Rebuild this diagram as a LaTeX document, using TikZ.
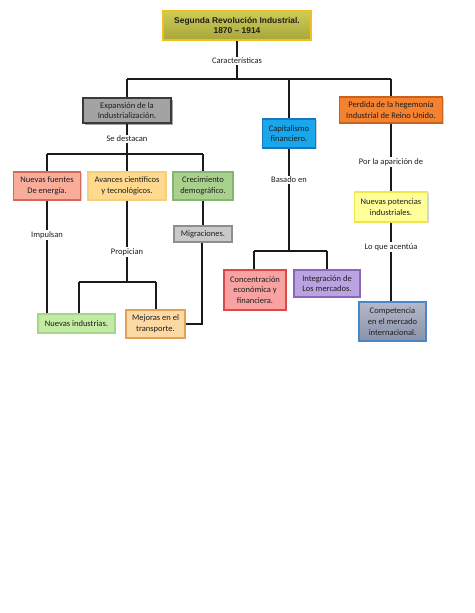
\documentclass[tikz,border=0pt]{standalone}
\usepackage{fontspec}
\setmainfont{Carlito}
\newfontfamily\titlefont{Liberation Sans}
\usetikzlibrary{shadows}
\definecolor{ln}{HTML}{1A1A1A}
\definecolor{txt}{HTML}{1E1E1E}
\definecolor{tiD}{HTML}{F0C020}\definecolor{tiT}{HTML}{CECC56}\definecolor{tiB}{HTML}{A8A63A}
\definecolor{exD}{HTML}{3A3A3A}\definecolor{exF}{HTML}{A3A3A3}
\definecolor{caD}{HTML}{1578C0}\definecolor{caF}{HTML}{19A6EA}
\definecolor{peD}{HTML}{C8601E}\definecolor{peF}{HTML}{F5822F}
\definecolor{nfD}{HTML}{D46A5A}\definecolor{nfF}{HTML}{F9AC9A}
\definecolor{avD}{HTML}{F5CE78}\definecolor{avF}{HTML}{FFD98E}
\definecolor{crD}{HTML}{86B474}\definecolor{crF}{HTML}{A9D18E}
\definecolor{miD}{HTML}{8E8E8E}\definecolor{miF}{HTML}{C9C9C9}
\definecolor{niD}{HTML}{A6D68A}\definecolor{niF}{HTML}{C4EBA4}
\definecolor{meD}{HTML}{E0A458}\definecolor{meF}{HTML}{FCD9A2}
\definecolor{coD}{HTML}{E04848}\definecolor{coF}{HTML}{F8A2A2}
\definecolor{inD}{HTML}{8A68B8}\definecolor{inF}{HTML}{BBA3E2}
\definecolor{npD}{HTML}{F2E64A}\definecolor{npF}{HTML}{FFFF99}
\definecolor{cmD}{HTML}{4A86C8}\definecolor{cmT}{HTML}{B4B8CA}\definecolor{cmB}{HTML}{8A92AA}
\tikzset{
  box/.style={draw, line width=1.3pt, align=center, inner sep=1pt, text=txt,
    font=\fontsize{8.5}{10.8}\selectfont,
    drop shadow={shadow xshift=1.2pt, shadow yshift=-1.2pt, opacity=0.35}},
  lab/.style={fill=white, inner sep=1.5pt, text=txt, font=\fontsize{8.5}{10.8}\selectfont},
  conn/.style={draw=ln, line width=1.8pt}
}
\begin{document}
\begin{tikzpicture}[x=1pt,y=-1pt]
\useasboundingbox[fill=white] (0,0) rectangle (474,613);
% boxes
\node[box, draw=tiD, line width=2pt, top color=tiT, bottom color=tiB,
  minimum width=148pt, minimum height=29pt, font=\titlefont\bfseries\fontsize{8.4}{10}\selectfont]
  (title) at (237,25.5) {Segunda Revolución Industrial.\\1870 – 1914};
\node[box, draw=exD, fill=exF, minimum width=88pt, minimum height=25pt,
  drop shadow={shadow xshift=1.8pt, shadow yshift=-1.8pt, opacity=0.7}]
  (exp) at (127,110.5) {Expansión de la\\Industrialización.};
\node[box, draw=caD, fill=caF, minimum width=53pt, minimum height=29pt]
  (cap) at (289,133.5) {Capitalismo\\financiero.};
\node[box, draw=peD, fill=peF, minimum width=103pt, minimum height=26pt]
  (perd) at (391,110) {Perdida de la hegemonía\\Industrial de Reino Unido.};
\node[box, draw=nfD, fill=nfF, minimum width=67pt, minimum height=28pt]
  (nf) at (47,186) {Nuevas fuentes\\De energía.};
\node[box, draw=avD, fill=avF, minimum width=78pt, minimum height=28pt]
  (av) at (127,186) {Avances científicos\\y tecnológicos.};
\node[box, draw=crD, fill=crF, minimum width=60pt, minimum height=28pt]
  (cre) at (203,186) {Crecimiento\\demográfico.};
\node[box, draw=miD, fill=miF, minimum width=58pt, minimum height=16pt]
  (mig) at (203,234) {Migraciones.};
\node[box, draw=niD, fill=niF, minimum width=77pt, minimum height=19pt]
  (ni) at (76.5,323.5) {Nuevas industrias.};
\node[box, draw=meD, fill=meF, minimum width=59pt, minimum height=28pt]
  (mej) at (155.5,324) {Mejoras en el\\transporte.};
\node[box, draw=coD, fill=coF, minimum width=62pt, minimum height=40pt]
  (con) at (255,290) {Concentración\\económica y\\financiera.};
\node[box, draw=inD, fill=inF, minimum width=66pt, minimum height=27pt]
  (int) at (327,283.5) {Integración de\\Los mercados.};
\node[box, draw=npD, fill=npF, minimum width=73pt, minimum height=30pt]
  (np) at (391,207) {Nuevas potencias\\industriales.};
\node[box, draw=cmD, top color=cmT, bottom color=cmB,
  minimum width=67pt, minimum height=39pt]
  (com) at (392.5,321.5) {Competencia\\en el mercado\\internacional.};
% branch coordinates
\coordinate (b1) at (240,79);
\coordinate (b1l) at (127,79);
\coordinate (b1r) at (391,79);
\coordinate (b2) at (127,154);
\coordinate (b2l) at (47,154);
\coordinate (b2r) at (203,154);
\coordinate (b3) at (127,282);
\coordinate (b3l) at (79,282);
\coordinate (b3r) at (156,282);
\coordinate (b4) at (289,251);
\coordinate (b4l) at (254,251);
\coordinate (b4r) at (327,251);
\coordinate (b5) at (202,324);
% connectors
\draw[conn] (title.south) -- (title.south |- b1);
\draw[conn] (b1l) -- (b1r);
\draw[conn] (b1l) -- (exp.north);
\draw[conn] (cap.north |- b1) -- (cap.north);
\draw[conn] (b1r) -- (perd.north);
\draw[conn] (exp.south) -- (b2);
\draw[conn] (b2l) -- (b2r);
\draw[conn] (b2l) -- (nf.north);
\draw[conn] (b2) -- (av.north);
\draw[conn] (b2r) -- (cre.north);
\draw[conn] (nf.south) -- (nf.south |- ni.north);
\draw[conn] (av.south) -- (b3);
\draw[conn] (b3l) -- (b3r);
\draw[conn] (b3l) -- (b3l |- ni.north);
\draw[conn] (b3r) -- (b3r |- mej.north);
\draw[conn] (cre.south) -- (mig.north);
\draw[conn] (mej.east) -- (b5) -- (b5 |- mig.south);
\draw[conn] (cap.south) -- (b4);
\draw[conn] (b4l) -- (b4r);
\draw[conn] (b4l) -- (b4l |- con.north);
\draw[conn] (b4r) -- (int.north);
\draw[conn] (perd.south) -- (np.north);
\draw[conn] (np.south) -- (np.south |- com.north);
% labels
\node[lab] (l1) at (237,61) {Características};
\node[lab] (l2) at (127,139) {Se destacan};
\node[lab] (l3) at (47,235) {Impulsan};
\node[lab] (l4) at (127,252) {Propician};
\node[lab] (l5) at (289,180) {Basado en};
\node[lab] (l6) at (391,162) {Por la aparición de};
\node[lab] (l7) at (391,247) {Lo que acentúa};
\end{tikzpicture}
\end{document}
